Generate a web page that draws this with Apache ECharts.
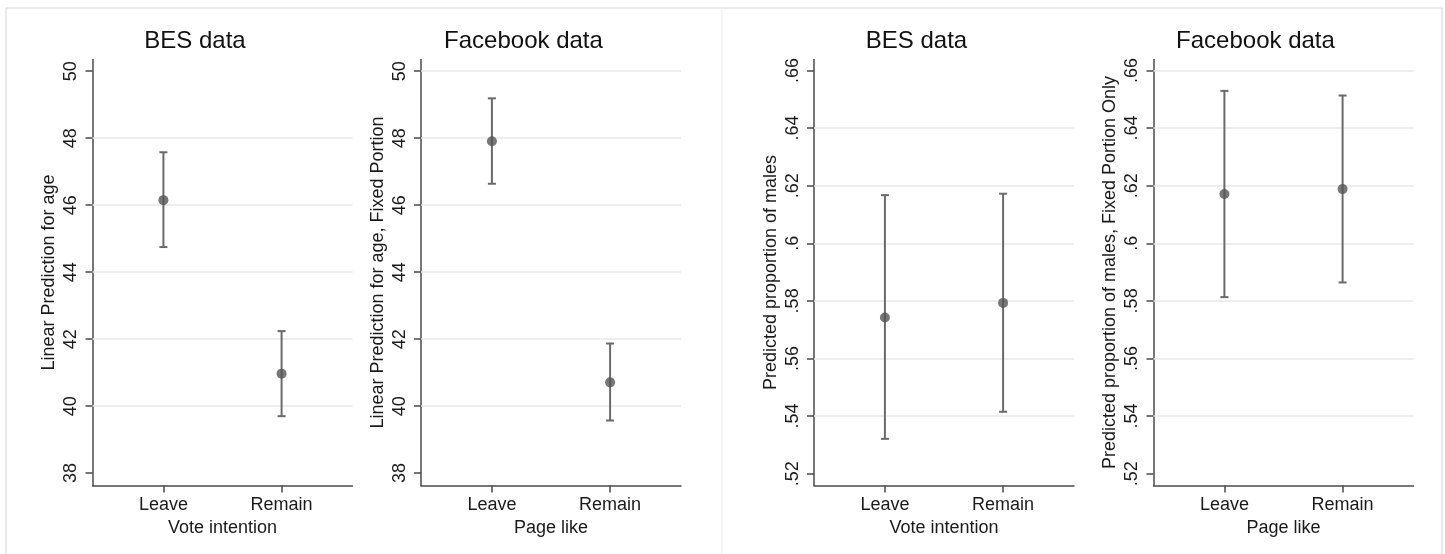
<!DOCTYPE html>
<html>
<head>
<meta charset="utf-8">
<script src="https://cdn.jsdelivr.net/npm/echarts@6/dist/echarts.min.js"></script>
<style>
  html, body { margin: 0; padding: 0; background: #fff; }
  #main { width: 1445px; height: 554px; }
</style>
</head>
<body>
<div id="main"></div>
<script>
// categories on the x axis
var categories = ['Leave', 'Remain'];

// age panels (left half)
var besAge = [46.15, 40.97];
var besAgeLow = [44.75, 39.70];
var besAgeHigh = [47.58, 42.24];
var fbAge = [47.91, 40.71];
var fbAgeLow = [46.64, 39.57];
var fbAgeHigh = [49.19, 41.87];

// proportion of males panels (right half)
var besMale = [0.5742, 0.5793];
var besMaleLow = [0.5321, 0.5415];
var besMaleHigh = [0.6167, 0.6172];
var fbMale = [0.6171, 0.6188];
var fbMaleLow = [0.5813, 0.5864];
var fbMaleHigh = [0.6529, 0.6513];

// tick labels and gridlines
var ageTicks = [38, 40, 42, 44, 46, 48, 50];
var maleTicks = [0.52, 0.54, 0.56, 0.58, 0.60, 0.62, 0.64, 0.66];
var besAgeGrid = [40, 42, 44, 46, 48];
var fbAgeGrid = [40, 42, 44, 46, 48, 50];
var besMaleGrid = [0.54, 0.56, 0.58, 0.60, 0.62, 0.64];
var fbMaleGrid = [0.54, 0.56, 0.58, 0.60, 0.62, 0.64, 0.66];

var ageRange = [37.63, 50.35];
var maleRange = [0.5159, 0.6638];
var xRange = [0.4, 2.6];

var FONT = '"Liberation Sans", Arial, Helvetica, sans-serif';
var catPos = categories.map(function (c, i) { return i + 1; });

var panels = [
    { title: 'BES data', titleX: 195, left: 92.5, xName: 'Vote intention', yName: 'Linear Prediction for age',
      ticks: ageTicks, range: ageRange, grid: besAgeGrid, mean: besAge, low: besAgeLow, high: besAgeHigh },
    { title: 'Facebook data', titleX: 523.5, left: 421, xName: 'Page like', yName: 'Linear Prediction for age, Fixed Portion',
      ticks: ageTicks, range: ageRange, grid: fbAgeGrid, mean: fbAge, low: fbAgeLow, high: fbAgeHigh },
    { title: 'BES data', titleX: 916.5, left: 814, xName: 'Vote intention', yName: 'Predicted proportion of males',
      ticks: maleTicks, range: maleRange, grid: besMaleGrid, mean: besMale, low: besMaleLow, high: besMaleHigh },
    { title: 'Facebook data', titleX: 1255.5, left: 1153.5, xName: 'Page like', yName: 'Predicted proportion of males, Fixed Portion Only',
      ticks: maleTicks, range: maleRange, grid: fbMaleGrid, mean: fbMale, low: fbMaleLow, high: fbMaleHigh }
];

function tickText(v) {
    if (v < 1) return String(+v.toFixed(2)).replace(/^0/, '');
    return String(v);
}

var axisLineStyle = { color: '#4a4a4a', width: 1.5 };
var textStyle = { color: '#1a1a1a', fontFamily: FONT, fontSize: 18 };

var titles = [], grids = [], xAxes = [], yAxes = [], series = [];

panels.forEach(function (p, i) {
    titles.push({
        text: p.title, left: p.titleX, top: 29, textAlign: 'center', padding: 0,
        textStyle: { color: '#111', fontFamily: FONT, fontSize: 24, fontWeight: 'normal' }
    });
    grids.push({ left: p.left, top: 59.5, width: 260, height: 426 });
    xAxes.push({
        type: 'value', gridIndex: i, min: xRange[0], max: xRange[1],
        name: p.xName, nameLocation: 'middle', nameGap: 33, nameTextStyle: textStyle,
        axisLine: { show: true, lineStyle: axisLineStyle },
        axisTick: { show: true, length: 7, customValues: catPos, lineStyle: axisLineStyle },
        axisLabel: {
            customValues: catPos, margin: 11, color: '#1a1a1a', fontFamily: FONT, fontSize: 18,
            formatter: function (v) { return categories[Math.round(v) - 1]; }
        },
        splitLine: { show: false }
    });
    yAxes.push({
        type: 'value', gridIndex: i, min: p.range[0], max: p.range[1],
        name: p.yName, nameLocation: 'middle', nameGap: 34, nameTextStyle: textStyle,
        axisLine: { show: true, lineStyle: axisLineStyle },
        axisTick: { show: true, length: 7, customValues: p.ticks, lineStyle: axisLineStyle },
        axisLabel: {
            customValues: p.ticks, rotate: 90, margin: 12, color: '#1a1a1a', fontFamily: FONT, fontSize: 18,
            formatter: tickText
        },
        splitLine: { show: false }
    });

    // confidence intervals
    series.push({
        type: 'custom', xAxisIndex: i, yAxisIndex: i, z: 3, silent: true,
        data: catPos.map(function (x, k) { return [x, p.low[k], p.high[k]]; }),
        renderItem: function (params, api) {
            var top = api.coord([api.value(0), api.value(2)]);
            var bot = api.coord([api.value(0), api.value(1)]);
            var style = { stroke: '#6a6a6a', lineWidth: 2 };
            var cap = 4;
            return {
                type: 'group',
                children: [
                    { type: 'line', shape: { x1: top[0], y1: top[1], x2: bot[0], y2: bot[1] }, style: style },
                    { type: 'line', shape: { x1: top[0] - cap, y1: top[1], x2: top[0] + cap, y2: top[1] }, style: style },
                    { type: 'line', shape: { x1: bot[0] - cap, y1: bot[1], x2: bot[0] + cap, y2: bot[1] }, style: style }
                ]
            };
        }
    });
    // point estimates + gridlines
    series.push({
        type: 'scatter', xAxisIndex: i, yAxisIndex: i, z: 4, silent: true,
        symbolSize: 10, itemStyle: { color: '#555' },
        data: catPos.map(function (x, k) { return [x, p.mean[k]]; }),
        markLine: {
            silent: true, symbol: 'none', z: 1, animation: false,
            label: { show: false },
            lineStyle: { color: '#e8e8e8', width: 1.5, type: 'solid' },
            data: p.grid.map(function (v) { return { yAxis: v }; })
        }
    });
});

var chart = echarts.init(document.getElementById('main'));
chart.setOption({
    animation: false,
    backgroundColor: '#fff',
    title: titles,
    grid: grids,
    xAxis: xAxes,
    yAxis: yAxes,
    series: series,
    graphic: [
        { type: 'line', silent: true, shape: { x1: 6, y1: 8, x2: 1442, y2: 8 }, style: { stroke: '#e2e2e2', lineWidth: 1.5 } },
        { type: 'line', silent: true, shape: { x1: 6, y1: 8, x2: 6, y2: 554 }, style: { stroke: '#e2e2e2', lineWidth: 1.5 } },
        { type: 'line', silent: true, shape: { x1: 1442, y1: 8, x2: 1442, y2: 554 }, style: { stroke: '#e2e2e2', lineWidth: 1.5 } },
        { type: 'line', silent: true, shape: { x1: 722, y1: 8, x2: 722, y2: 554 }, style: { stroke: '#ececec', lineWidth: 1 } }
    ]
});
</script>
</body>
</html>
